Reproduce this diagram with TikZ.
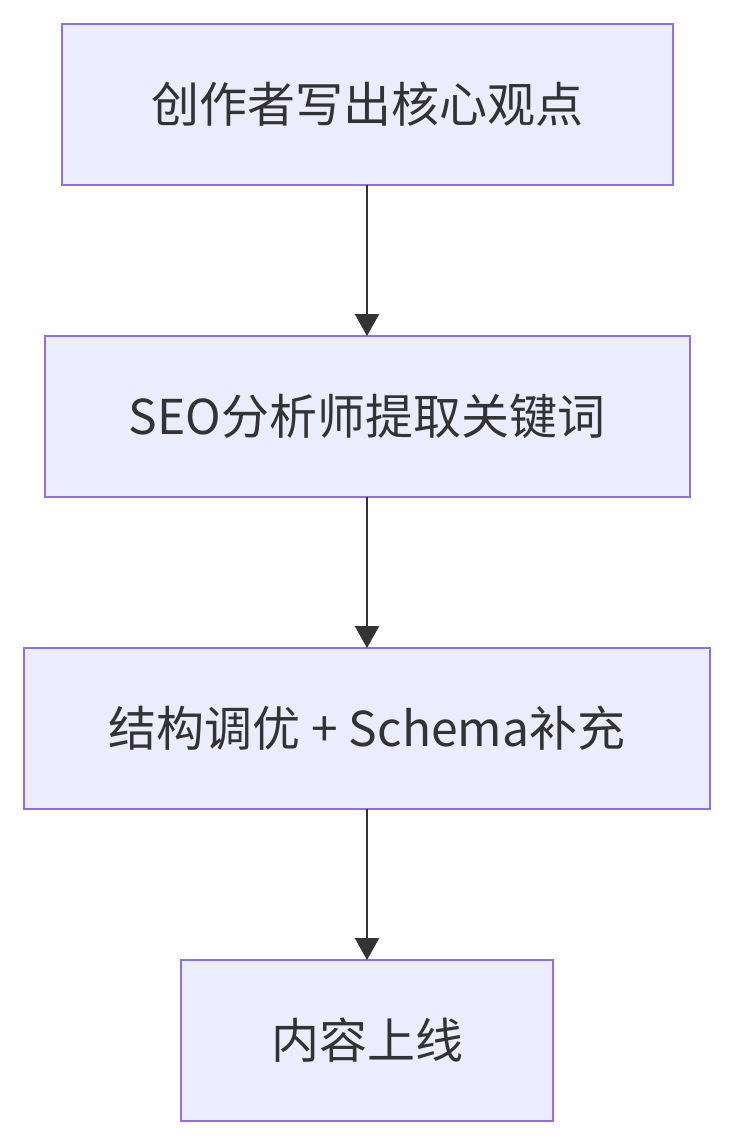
\documentclass[tikz,border=0pt]{standalone}
\usepackage{fontspec}
\setmainfont{Noto Sans CJK SC}
\usetikzlibrary{positioning, arrows.meta}
\definecolor{boxfill}{HTML}{ECECFF}
\definecolor{boxline}{HTML}{9370DB}
\definecolor{ink}{HTML}{333333}
\tikzset{
	stepbox/.style={draw=boxline, fill=boxfill, line width=2pt, minimum height=161pt, outer sep=0pt, text=ink, font=\fontsize{48pt}{54pt}\selectfont},
	flow/.style={draw=ink, line width=2.2pt, arrows={-Triangle[width=24pt,length=22pt]}}
}
\begin{document}
\begin{tikzpicture}[x=1pt, y=1pt]
		\useasboundingbox (0,0) rectangle (734,-1146);
		
		%----------------------------------------------------------------
		\node(author) [stepbox, minimum width=611pt] at (367,-104.5) {创作者写出核心观点};
		\node(seo) [stepbox, minimum width=645pt, below=151pt of author] {SEO分析师提取关键词};
		\node(tuning) [stepbox, minimum width=686pt, below=151pt of seo] {结构调优 + Schema补充};
		\node(online) [stepbox, minimum width=372pt, below=151pt of tuning] {内容上线};
		
		%----------------------------------------------------------------
		\draw [flow] (author) -- (seo);
		\draw [flow] (seo) -- (tuning);
		\draw [flow] (tuning) -- (online);
		
	\end{tikzpicture}
\end{document}
